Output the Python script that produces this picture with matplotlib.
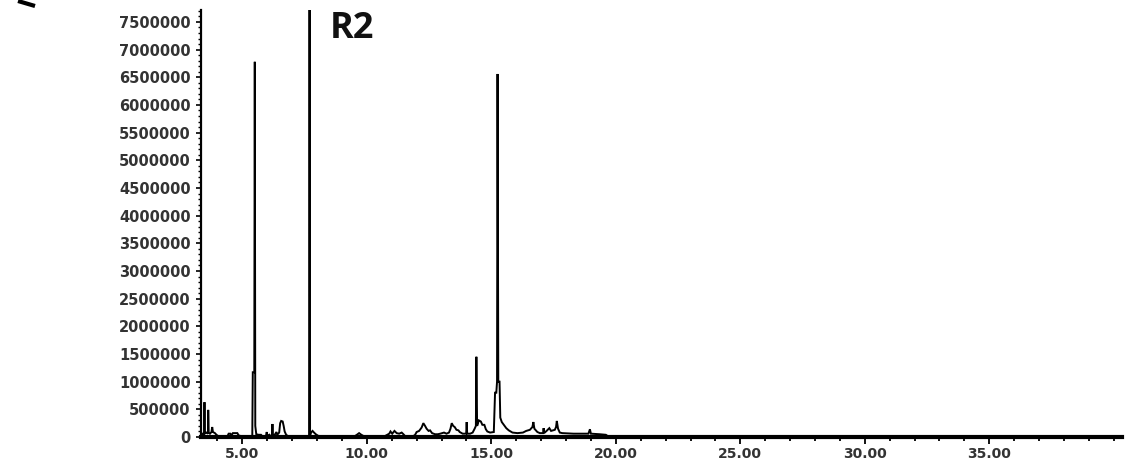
import matplotlib
matplotlib.use("Agg")
import matplotlib.pyplot as plt
from matplotlib.ticker import MultipleLocator, FuncFormatter
from matplotlib.lines import Line2D

# Retention time (min) and abundance
rt = [3.36, 3.40, 3.46, 3.48, 3.50, 3.56, 3.62, 3.63, 3.65, 3.70, 3.76, 3.79, 3.82,
      3.90, 3.96, 4.02, 4.10, 4.40, 4.45, 4.52, 4.55, 4.62, 4.80, 4.85, 4.95, 5.30,
      5.40, 5.42, 5.48, 5.50, 5.52, 5.56, 5.65, 5.75, 5.80, 5.95, 5.98, 6.00, 6.08,
      6.10, 6.19, 6.21, 6.23, 6.30, 6.37, 6.40, 6.48, 6.52, 6.56, 6.62, 6.66, 6.70,
      6.76, 6.85, 7.60, 7.68, 7.70, 7.72, 7.76, 7.82, 7.88, 7.95, 8.05, 8.40, 9.50,
      9.60, 9.69, 9.78, 9.90, 10.70, 10.78, 10.90, 10.95, 11.02, 11.11, 11.20, 11.30,
      11.40, 11.47, 11.55, 11.85, 11.94, 12.00, 12.10, 12.20, 12.27, 12.34, 12.40,
      12.48, 12.54, 12.62, 12.74, 12.85, 12.95, 13.10, 13.20, 13.30, 13.36, 13.41,
      13.47, 13.53, 13.60, 13.68, 13.73, 13.85, 13.99, 14.01, 14.03, 14.15, 14.25,
      14.33, 14.38, 14.40, 14.43, 14.50, 14.58, 14.64, 14.72, 14.78, 14.84, 14.95,
      15.10, 15.15, 15.20, 15.23, 15.25, 15.28, 15.33, 15.36, 15.42, 15.50, 15.60,
      15.70, 15.85, 16.05, 16.27, 16.40, 16.55, 16.65, 16.69, 16.73, 16.85, 16.95,
      17.08, 17.10, 17.12, 17.22, 17.33, 17.40, 17.55, 17.60, 17.63, 17.68, 17.75,
      17.85, 18.30, 18.90, 18.96, 19.00, 19.35, 19.60, 19.70, 20.00, 41.00]
abundance = [30000, 60000, 50000, 630000, 60000, 80000, 60000, 490000, 80000, 60000,
             90000, 180000, 90000, 70000, 40000, 20000, 10000, 10000, 60000, 60000,
             20000, 70000, 70000, 30000, 15000, 15000, 20000, 1170000, 1170000,
             6780000, 200000, 50000, 40000, 40000, 15000, 20000, 90000, 20000, 40000,
             20000, 30000, 235000, 30000, 40000, 90000, 40000, 80000, 250000, 290000,
             280000, 200000, 100000, 40000, 10000, 10000, 15000, 9500000, 20000,
             80000, 110000, 80000, 50000, 20000, 10000, 10000, 40000, 70000, 40000,
             10000, 10000, 30000, 60000, 100000, 60000, 110000, 70000, 60000, 80000,
             50000, 10000, 10000, 40000, 90000, 110000, 170000, 250000, 200000,
             150000, 110000, 120000, 70000, 50000, 50000, 60000, 80000, 60000, 80000,
             150000, 250000, 200000, 180000, 130000, 120000, 90000, 60000, 60000,
             270000, 60000, 60000, 80000, 150000, 200000, 1450000, 200000, 300000,
             280000, 220000, 220000, 140000, 100000, 80000, 90000, 800000, 800000,
             1000000, 6560000, 1000000, 1000000, 350000, 270000, 220000, 160000,
             120000, 80000, 70000, 80000, 110000, 130000, 180000, 270000, 150000,
             90000, 70000, 70000, 160000, 70000, 110000, 160000, 110000, 130000,
             180000, 290000, 150000, 80000, 70000, 60000, 60000, 140000, 60000,
             50000, 40000, 10000, 0, 0]

x_major = [5, 10, 15, 20, 25, 30, 35]
y_major = list(range(0, 7500001, 500000))
label = "R2"

fig = plt.figure(figsize=(11.27, 4.65), dpi=100)
ax = fig.add_axes([201 / 1127, 28 / 465, 921 / 1127, 427 / 465])

ax.plot(rt, abundance, color="black", lw=1.4, solid_joinstyle="miter")

ax.set_xlim(3.34, 40.33)
ax.set_ylim(0, 7.716e6)

for s in ("top", "right"):
    ax.spines[s].set_visible(False)
ax.spines["left"].set_linewidth(1.6)
ax.spines["bottom"].set_linewidth(3.0)

ax.set_xticks(x_major)
ax.xaxis.set_minor_locator(MultipleLocator(1))
ax.set_yticks(y_major)
ax.yaxis.set_minor_locator(MultipleLocator(100000))
ax.xaxis.set_major_formatter(FuncFormatter(lambda v, p: f"{v:.2f}"))
ax.yaxis.set_major_formatter(FuncFormatter(lambda v, p: f"{int(round(v))}"))

ax.tick_params(axis="x", which="major", length=5, width=1.3, direction="out", pad=2,
               labelsize=10, labelcolor="#333333")
ax.tick_params(axis="x", which="minor", length=3, width=1.3, direction="out")
ax.tick_params(axis="y", which="major", length=3.5, width=1.2, direction="out", pad=4,
               labelsize=10.5, labelcolor="#333333")
ax.tick_params(axis="y", which="minor", length=2.2, width=1.0, direction="out")
for t in ax.get_xticklabels() + ax.get_yticklabels():
    t.set_fontweight("bold")
    t.set_family("DejaVu Sans")

fig.text(330 / 1127, (465 - 38) / 465, label, fontsize=26, fontweight="bold",
         family="Open Sans", color="#111111", va="baseline", ha="left")

# fragment of a cut-off stroke in the top-left corner
fig.add_artist(Line2D([18 / 1127, 35 / 1127], [1 - 1 / 465, 1 - 6 / 465],
                      transform=fig.transFigure, color="black", lw=3.0,
                      solid_capstyle="butt"))

fig.savefig("out.png", dpi=100)
